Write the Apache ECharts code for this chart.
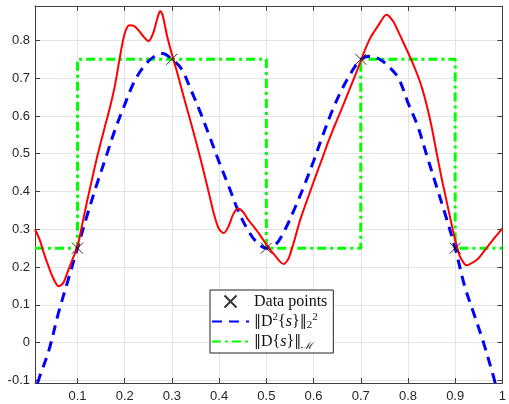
<!DOCTYPE html>
<html><head><meta charset="utf-8">
<script src="https://cdn.jsdelivr.net/npm/echarts@6/dist/echarts.min.js"></script>
<style>html,body{margin:0;padding:0;background:#fff}#c{width:509px;height:404px}</style>
</head><body><div id="c"></div>
<script>
// ---- data ----
const xTicks = [0.1,0.2,0.3,0.4,0.5,0.6,0.7,0.8,0.9,1];
const yTicks = [-0.1,0,0.1,0.2,0.3,0.4,0.5,0.6,0.7,0.8];
const pointsX = [0.1,0.3,0.5,0.7,0.9];
const pointsY = [0.25,0.75,0.25,0.75,0.25];
const stepX = [0.01,0.1,0.5,0.7,0.9,1.0];
const stepY = [0.25,0.75,0.25,0.75,0.25,0.25];
const blueX = [0.015,0.02,0.04,0.06,0.08,0.10,0.12,0.14,0.16,0.18,0.20,0.22,0.24,0.26,0.28,0.30,0.32,0.34,0.36,0.38,0.40,0.42,0.44,0.46,0.48,0.50,0.52,0.54,0.56,0.58,0.60,0.62,0.64,0.66,0.68,0.70,0.72,0.74,0.76,0.78,0.80,0.82,0.84,0.86,0.88,0.90,0.92,0.94,0.96,0.98,0.985];
const blueY = [-0.108,-0.09,-0.018,0.08,0.165,0.25,0.335,0.415,0.49,0.565,0.63,0.69,0.73,0.755,0.765,0.75,0.725,0.67,0.61,0.545,0.478,0.415,0.35,0.30,0.265,0.25,0.26,0.30,0.355,0.415,0.48,0.55,0.615,0.67,0.715,0.75,0.758,0.75,0.73,0.70,0.635,0.575,0.495,0.415,0.335,0.25,0.15,0.075,0.0,-0.085,-0.108];
const redX = [0.01,0.02,0.03,0.04,0.05,0.06,0.07,0.08,0.09,0.10,0.11,0.12,0.13,0.14,0.15,0.16,0.17,0.18,0.19,0.20,0.21,0.22,0.23,0.24,0.25,0.26,0.27,0.275,0.28,0.285,0.29,0.30,0.31,0.32,0.33,0.34,0.35,0.36,0.37,0.38,0.39,0.40,0.41,0.42,0.43,0.44,0.45,0.46,0.47,0.48,0.49,0.50,0.51,0.52,0.53,0.537,0.545,0.55,0.56,0.57,0.58,0.59,0.60,0.61,0.62,0.63,0.64,0.65,0.66,0.67,0.68,0.69,0.70,0.71,0.72,0.73,0.74,0.75,0.755,0.76,0.77,0.78,0.79,0.80,0.81,0.82,0.83,0.84,0.85,0.86,0.87,0.88,0.89,0.90,0.91,0.92,0.925,0.93,0.94,0.95,0.96,0.97,0.98,0.99,1.00];
const redY = [0.300,0.272,0.232,0.197,0.167,0.149,0.158,0.19,0.222,0.254,0.313,0.372,0.428,0.483,0.533,0.581,0.629,0.685,0.757,0.818,0.840,0.838,0.826,0.810,0.798,0.818,0.862,0.877,0.868,0.84,0.81,0.763,0.72,0.674,0.628,0.583,0.537,0.489,0.439,0.387,0.336,0.300,0.290,0.308,0.34,0.355,0.347,0.328,0.312,0.296,0.278,0.26,0.243,0.228,0.213,0.208,0.218,0.232,0.273,0.318,0.355,0.39,0.425,0.459,0.493,0.528,0.56,0.59,0.62,0.651,0.682,0.713,0.745,0.778,0.806,0.826,0.845,0.864,0.868,0.864,0.848,0.822,0.795,0.768,0.74,0.709,0.673,0.627,0.572,0.507,0.443,0.385,0.327,0.272,0.228,0.208,0.205,0.207,0.214,0.224,0.24,0.256,0.272,0.287,0.302];
const legendNames = ['Data points','blue','green'];
// ---- chart ----
const zip = (a,b)=>a.map((v,i)=>[v,b[i]]);
const chart = echarts.init(document.getElementById('c'), null, {renderer:'canvas'});
const axisCol = '#404040';
const fmtX = v => (Math.abs(v-1)<1e-9 ? '1' : v.toFixed(1));
const fmtY = v => (Math.abs(v)<1e-9 ? '0' : v.toFixed(1));
const labelFont = {fontFamily:'Liberation Sans, Arial, sans-serif', fontSize:13, color:'#262626'};
const serif = 'Liberation Serif, DejaVu Serif, serif';
const bar = {fontFamily:'DejaVu Serif, serif', fontSize:14, color:'#111'};
chart.setOption({
  animation:false,
  backgroundColor:'#fff',
  grid:{left:35,right:1,top:6,bottom:21,containLabel:false},
  xAxis:[{
    type:'value', min:0.01, max:1, position:'bottom',
    axisLine:{show:true,onZero:false,lineStyle:{color:axisCol,width:1}},
    axisTick:{show:true,inside:true,length:5,customValues:xTicks,lineStyle:{color:axisCol}},
    axisLabel:Object.assign({show:true,margin:7,customValues:xTicks,formatter:fmtX},labelFont),
    splitLine:{show:true,lineStyle:{color:'#e3e3e3',width:1}}
  },{
    type:'value', min:0.01, max:1, position:'top',
    axisLine:{show:true,onZero:false,lineStyle:{color:axisCol,width:1}},
    axisTick:{show:true,inside:true,length:5,customValues:xTicks,lineStyle:{color:axisCol}},
    axisLabel:{show:false},
    splitLine:{show:false}
  }],
  yAxis:[{
    type:'value', min:-0.107, max:0.891, position:'left',
    axisLine:{show:true,onZero:false,lineStyle:{color:axisCol,width:1}},
    axisTick:{show:true,inside:true,length:5,customValues:yTicks,lineStyle:{color:axisCol}},
    axisLabel:Object.assign({show:true,margin:5,customValues:yTicks,formatter:fmtY},labelFont),
    splitLine:{show:true,lineStyle:{color:'#e3e3e3',width:1}}
  },{
    type:'value', min:-0.107, max:0.891, position:'right',
    axisLine:{show:true,onZero:false,lineStyle:{color:axisCol,width:1}},
    axisTick:{show:true,inside:true,length:5,customValues:yTicks,lineStyle:{color:axisCol}},
    axisLabel:{show:false},
    splitLine:{show:false}
  }],
  legend:{
    data:legendNames, orient:'vertical', left:210, top:290,
    backgroundColor:'#fff', borderColor:'#222', borderWidth:1, borderRadius:0,
    padding:[2,6,2,1], itemGap:1, itemWidth:37, itemHeight:12,
    textStyle:{fontFamily:serif, fontSize:16, color:'#111', lineHeight:19,
      rich:{
        b:bar,
        n:{fontFamily:serif, fontSize:16, color:'#111'},
        it:{fontFamily:serif, fontStyle:'italic', fontSize:16, color:'#111'},
        sup:{fontFamily:serif, fontSize:11, color:'#111', verticalAlign:'top', padding:[0,0,6,0]},
        sub:{fontFamily:serif, fontSize:11, color:'#111', verticalAlign:'bottom', padding:[5,0,0,0]},
        subit:{fontFamily:'DejaVu Serif, serif', fontStyle:'italic', fontSize:10, color:'#111', verticalAlign:'bottom', padding:[5,0,0,0]}
      }},
    formatter: function(name){
      if(name==='blue') return '{b|‖}D{sup|2}{{it|s}}{b|‖}{sub|2}{sup|2}';
      if(name==='green') return '{b|‖}D{{it|s}}{b|‖}{subit|ℳ}';
      return name;
    }
  },
  series:[
    {name:'green', type:'line', xAxisIndex:0, yAxisIndex:0, data:zip(stepX,stepY), step:'end', showSymbol:false, symbol:'none',
      itemStyle:{color:'rgba(0,0,0,0)', borderWidth:0},
      lineStyle:{color:'#00ff00', width:3, type:[9,4,3,4]}, z:2},
    {name:'blue', type:'line', xAxisIndex:0, yAxisIndex:0, data:zip(blueX,blueY), smooth:0.35, showSymbol:false, symbol:'none',
      itemStyle:{color:'rgba(0,0,0,0)', borderWidth:0},
      lineStyle:{color:'#0000ff', width:3, type:[10,7]}, clip:true, z:3},
    {name:'red', type:'line', xAxisIndex:0, yAxisIndex:0, data:zip(redX,redY), smooth:0.3, showSymbol:false, symbol:'none',
      itemStyle:{color:'rgba(0,0,0,0)', borderWidth:0},
      lineStyle:{color:'#ff0000', width:2}, clip:true, z:4},
    {name:'Data points', type:'scatter', xAxisIndex:0, yAxisIndex:0, data:zip(pointsX,pointsY),
      symbol:'path://M0,0L10,10M10,0L0,10', symbolSize:11,
      itemStyle:{color:'rgba(0,0,0,0)', borderColor:'#000', borderWidth:1}, z:5}
  ]
});
</script></body></html>
